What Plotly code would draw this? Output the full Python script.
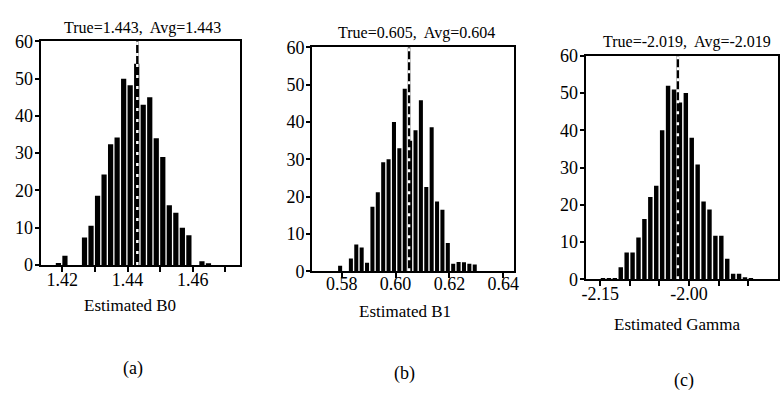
import plotly.graph_objects as go

# ---------------- data ----------------
b0_bins = [1.4188, 1.4208, 1.4228, 1.4248, 1.4268, 1.4288, 1.4308, 1.4328,
           1.4348, 1.4368, 1.4388, 1.4408, 1.4428, 1.4448, 1.4468, 1.4488,
           1.4508, 1.4528, 1.4548, 1.4568, 1.4588, 1.4608, 1.4628, 1.4648]
b0_counts = [0.5, 2.5, 0, 0, 7.4, 10.5, 18.6, 24.3, 32.4, 34.2, 50, 48.2,
             54, 43, 45, 34, 29, 16, 14, 10, 8, 0, 1, 0.3]
b0_true = 1.443

b1_bins = [0.5794, 0.5814, 0.5834, 0.5854, 0.5874, 0.5894, 0.5914, 0.5934,
           0.5954, 0.5974, 0.5994, 0.6014, 0.6034, 0.6054, 0.6074, 0.6094,
           0.6114, 0.6134, 0.6154, 0.6174, 0.6194, 0.6214, 0.6234, 0.6254,
           0.6274, 0.6294]
b1_counts = [1.5, 0, 3.4, 7.2, 6.4, 2.3, 17.3, 21.2, 29.2, 30, 40, 33, 48.9,
             35, 37.8, 45.8, 22.6, 38.6, 18.7, 16.5, 7.6, 2, 2.5, 2.4, 2, 1.8]
b1_true = 0.605

gamma_bins = [-2.1455, -2.1355, -2.1255, -2.1155, -2.1055, -2.0955, -2.0855,
              -2.0755, -2.0655, -2.0555, -2.0455, -2.0355, -2.0255, -2.0155,
              -2.0055, -1.9955, -1.9855, -1.9755, -1.9655, -1.9555, -1.9455,
              -1.9355, -1.9255, -1.9155, -1.9055, -1.8955]
gamma_counts = [0.3, 0.3, 0.3, 3.2, 7.2, 7.2, 11.2, 16.2, 22.1, 25.1, 40, 52,
                51, 47.5, 50, 38, 30.8, 20.9, 18.7, 11.7, 11.7, 5.5, 1.5, 1.5,
                0.5, 0.2]
gamma_true = -2.019

titles = ["True=1.443,  Avg=1.443", "True=0.605,  Avg=0.604",
          "True=-2.019,  Avg=-2.019"]
xlabels = ["Estimated B0", "Estimated B1", "Estimated Gamma"]
panel_tags = ["(a)", "(b)", "(c)"]

b0_ticks = [1.42, 1.43, 1.44, 1.45, 1.46, 1.47]
b0_ticktext = ["1.42", "", "1.44", "", "1.46", ""]
b1_ticks = [0.58, 0.60, 0.62, 0.64]
b1_ticktext = ["0.58", "0.60", "0.62", "0.64"]
gamma_ticks = [-2.15, -2.10, -2.05, -2.00, -1.95, -1.90]
gamma_ticktext = ["-2.15", "", "", "-2.00", "", ""]
y_ticks = [0, 10, 20, 30, 40, 50, 60]

# ---------------- figure ----------------
W, H = 784, 402
FONT = "Liberation Serif"

fig = go.Figure()

panels = [
    dict(bins=b0_bins, counts=b0_counts, true=b0_true, width=0.0016,
         xr=[1.41333, 1.47455], tv=b0_ticks, tt=b0_ticktext,
         px=(37, 239), py=(33, 268.3), xstand=-8),
    dict(bins=b1_bins, counts=b1_counts, true=b1_true, width=0.0015,
         xr=[0.5690, 0.6439], tv=b1_ticks, tt=b1_ticktext,
         px=(311.7, 515.7), py=(39.3, 275), xstand=-10),
    dict(bins=gamma_bins, counts=gamma_counts, true=gamma_true, width=0.0075,
         xr=[-2.175, -1.8505], tv=gamma_ticks, tt=gamma_ticktext,
         px=(588.3, 782.5), py=(48.3, 283.3), xstand=-8),
]

for i, p in enumerate(panels):
    n = "" if i == 0 else str(i + 1)
    xa, ya = "x" + n, "y" + n
    fig.add_trace(go.Bar(x=p["bins"], y=p["counts"], width=p["width"],
                         marker=dict(color="black", line=dict(width=0)),
                         xaxis=xa, yaxis=ya, showlegend=False))
    # dashed reference line: black base with white gaps
    fig.add_trace(go.Scatter(x=[p["true"], p["true"]], y=[0, 60], mode="lines",
                             line=dict(color="black", width=2.5),
                             xaxis=xa, yaxis=ya, showlegend=False))
    fig.add_trace(go.Scatter(x=[p["true"], p["true"]], y=[0, 60], mode="lines",
                             line=dict(color="white", width=2.5, dash="3px,8px"),
                             xaxis=xa, yaxis=ya, showlegend=False))
    axcommon = dict(showline=True, linecolor="black", linewidth=2, mirror=True,
                    ticks="outside", tickcolor="black", tickwidth=2,
                    showgrid=False, zeroline=False,
                    tickfont=dict(family=FONT, size=18, color="black"))
    fig.layout["xaxis" + n] = dict(
        axcommon, domain=[p["px"][0] / W, p["px"][1] / W], range=p["xr"],
        tickmode="array", tickvals=p["tv"], ticktext=p["tt"], ticklen=5,
        ticklabelstandoff=p["xstand"], anchor=ya)
    fig.layout["yaxis" + n] = dict(
        axcommon, domain=[1 - p["py"][1] / H, 1 - p["py"][0] / H],
        range=[0, 60], tickmode="array", tickvals=y_ticks, ticklen=4,
        ticklabelstandoff=-2, anchor=xa)

ann_pos = [
    # title (x, y), xlabel (x, y), tag (x, y) in pixels
    ((140, 19), (127, 311), (130, 377)),
    ((417, 24), (406, 317), (405, 383)),
    ((691, 34), (681, 331), (688, 390)),
]
for i, (t, xl, tag) in enumerate(ann_pos):
    for text, (x, y), size in ((titles[i], t, 16), (xlabels[i], xl, 17),
                               (panel_tags[i], tag, 18)):
        fig.add_annotation(text=text, x=x / W, y=1 - y / H, xref="paper",
                           yref="paper", showarrow=False, xanchor="center",
                           yanchor="middle",
                           font=dict(family=FONT, size=size, color="black"))

fig.update_layout(width=W, height=H, margin=dict(l=0, r=0, t=0, b=0),
                  paper_bgcolor="white", plot_bgcolor="white",
                  font=dict(family=FONT, color="black"), bargap=0.25)

fig.write_html("out.html", config={"displayModeBar": False},
               post_script="document.body.style.margin='0';"
                           "document.body.style.overflow='hidden';")
